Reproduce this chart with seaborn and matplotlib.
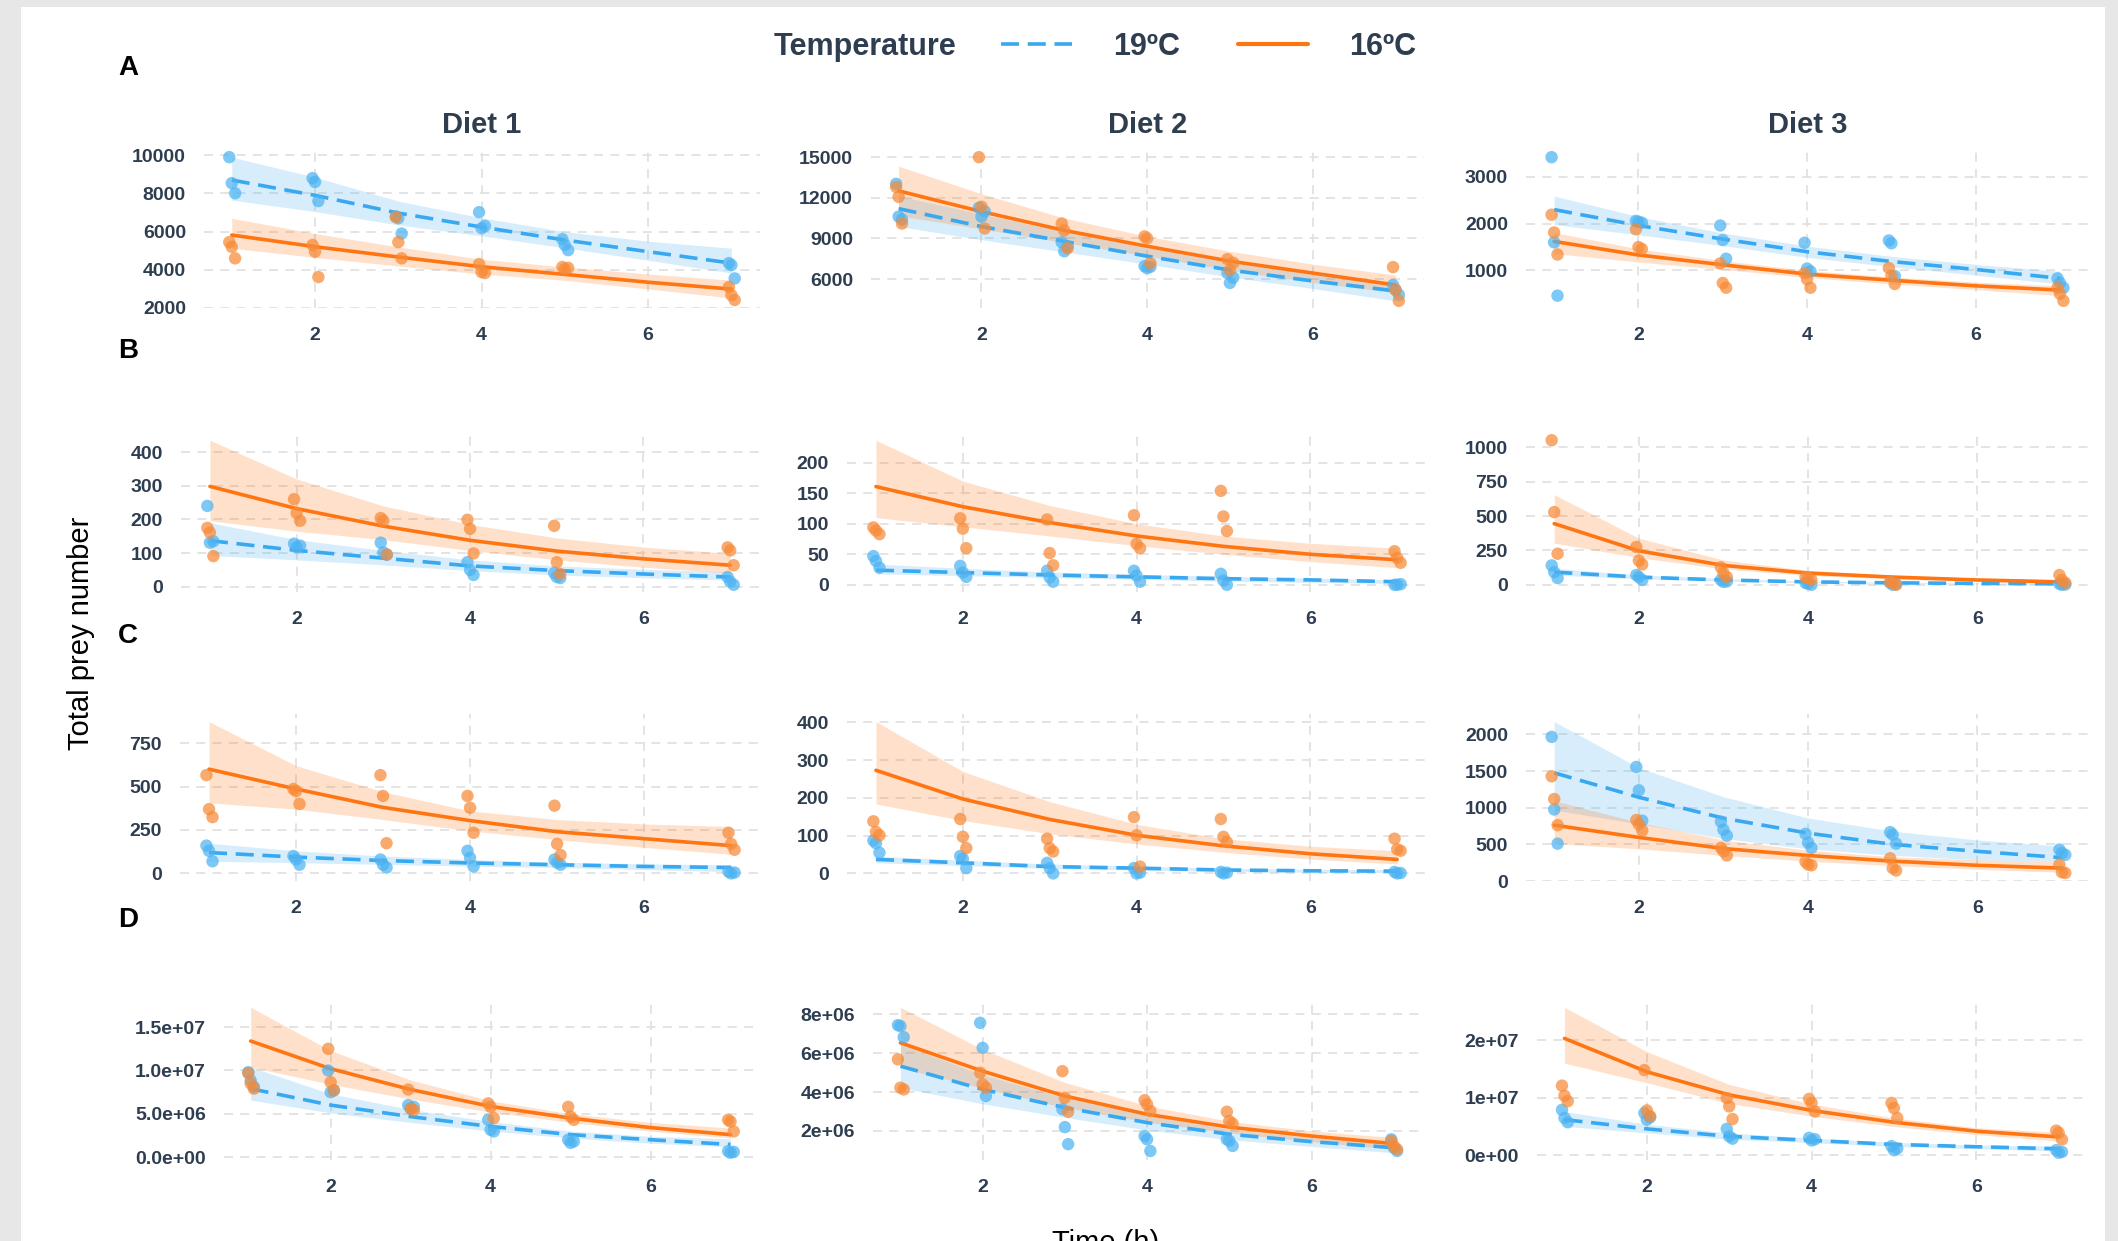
import numpy as np
import pandas as pd
import seaborn as sns
import matplotlib.pyplot as plt
from matplotlib.lines import Line2D
from matplotlib.patches import Rectangle

# sampling times of the replicates (3 per time point) and the small plotting jitter
times = [1, 1, 1, 2, 2, 2, 3, 3, 3, 4, 4, 4, 5, 5, 5, 7, 7, 7]
jitter = [-0.03, 0.0, 0.04] * 6
fit_times = [1, 2, 3, 4, 5, 6, 7]
temps = ['19ºC', '16ºC']
diets = ['Diet 1', 'Diet 2', 'Diet 3']
row_labels = ['A', 'B', 'C', 'D']
x_ticks = [2, 4, 6]

# ---- row A ----
A1_19 = [9900, 8540, 8010, 8800, 8600, 7600, 6800, 6700, 5900, 7020, 6180, 6300, 5600, 5300, 5030, 4350, 4250, 3550]
A1_16 = [5450, 5200, 4600, 5300, 4950, 3620, 6760, 5450, 4600, 4300, 3880, 3830, 4150, 4040, 4100, 3100, 2680, 2420]
A1_fit19 = [8700, 7900, 6970, 6240, 5560, 4950, 4350]
A1_lo19 = [7650, 7050, 6350, 5780, 5150, 4500, 3830]
A1_hi19 = [9900, 8850, 7600, 6720, 6000, 5500, 5130]
A1_fit16 = [5820, 5210, 4670, 4160, 3760, 3350, 2990]
A1_lo16 = [5130, 4650, 4200, 3780, 3450, 3000, 2520]
A1_hi16 = [6700, 5900, 5200, 4550, 4150, 3780, 3460]

A2_19 = [13030, 10610, 10400, 11270, 10610, 11000, 8710, 8050, 8400, 6950, 6800, 6900, 6440, 5710, 6100, 5560, 5200, 4830]
A2_16 = [12800, 12070, 10100, 15000, 11340, 9730, 10100, 9590, 8270, 9150, 9000, 7170, 7470, 6660, 7200, 6880, 5200, 4390]
A2_fit19 = [11200, 9880, 8780, 7690, 6660, 5860, 5120]
A2_lo19 = [9880, 8900, 8000, 7100, 6150, 5300, 4390]
A2_hi19 = [12150, 10800, 9500, 8300, 7200, 6400, 5560]
A2_fit16 = [12510, 10980, 9590, 8420, 7320, 6440, 5560]
A2_lo16 = [10680, 9700, 8700, 7700, 6650, 5750, 4980]
A2_hi16 = [14340, 12300, 10500, 9150, 8050, 7100, 6290]

A3_19 = [3420, 1600, 460, 2060, 2040, 2020, 1960, 1650, 1250, 1590, 1040, 980, 1640, 1580, 880, 830, 730, 630]
A3_16 = [2190, 1810, 1340, 1880, 1500, 1460, 1150, 730, 630, 940, 810, 630, 1050, 880, 710, 630, 500, 350]
A3_fit19 = [2300, 1960, 1670, 1400, 1190, 1020, 830]
A3_lo19 = [1980, 1760, 1530, 1280, 1080, 900, 710]
A3_hi19 = [2590, 2150, 1800, 1520, 1300, 1130, 980]
A3_fit16 = [1620, 1330, 1120, 920, 790, 670, 580]
A3_lo16 = [1360, 1180, 1020, 850, 710, 590, 460]
A3_hi16 = [1810, 1460, 1210, 1000, 860, 750, 670]

# ---- row B ----
B1_19 = [240, 131, 135, 128, 117, 122, 131, 102, 95, 73, 50, 35, 41, 29, 26, 29, 15, 6]
B1_16 = [175, 161, 91, 260, 219, 196, 204, 196, 96, 199, 172, 99, 181, 73, 38, 117, 108, 64]
B1_fit19 = [137, 108, 85, 62, 48, 38, 29]
B1_lo19 = [93, 80, 65, 48, 35, 27, 20]
B1_hi19 = [190, 140, 108, 80, 62, 52, 44]
B1_fit16 = [298, 232, 180, 138, 106, 83, 64]
B1_lo16 = [196, 165, 140, 108, 80, 58, 41]
B1_hi16 = [435, 320, 240, 185, 145, 118, 99]

B2_19 = [47, 39, 28, 31, 20, 13, 23, 12, 5, 23, 15, 5, 18, 7, 0, 0, 0, 1]
B2_16 = [94, 89, 83, 109, 92, 60, 107, 52, 32, 114, 67, 60, 154, 112, 88, 55, 44, 36]
B2_fit19 = [24, 20, 16, 13, 10, 8, 5]
B2_lo19 = [18, 15, 12, 9, 6, 4, 2]
B2_hi19 = [34, 27, 21, 17, 14, 11, 8]
B2_fit16 = [161, 128, 102, 80, 63, 50, 41]
B2_lo16 = [110, 95, 80, 64, 50, 38, 28]
B2_hi16 = [237, 170, 130, 100, 80, 68, 60]

B3_19 = [141, 92, 49, 71, 56, 35, 35, 21, 25, 14, 7, 0, 14, 0, 5, 7, 0, 2]
B3_16 = [1052, 529, 226, 275, 176, 148, 127, 85, 56, 56, 49, 35, 21, 14, 0, 71, 35, 14]
B3_fit19 = [92, 56, 35, 21, 14, 10, 7]
B3_lo19 = [71, 43, 27, 16, 10, 6, 3]
B3_hi19 = [120, 72, 45, 28, 19, 14, 11]
B3_fit16 = [445, 247, 141, 85, 56, 35, 21]
B3_lo16 = [303, 198, 115, 68, 42, 25, 7]
B3_hi16 = [656, 339, 180, 105, 68, 45, 35]

# ---- row C ----
C1_19 = [160, 130, 70, 100, 80, 50, 80, 50, 34, 130, 90, 40, 80, 62, 50, 10, 0, 5]
C1_16 = [566, 370, 324, 486, 474, 400, 566, 446, 174, 446, 378, 234, 390, 170, 106, 234, 170, 136]
C1_fit19 = [120, 94, 74, 60, 50, 40, 34]
C1_lo19 = [70, 62, 52, 42, 34, 22, 10]
C1_hi19 = [174, 130, 100, 80, 65, 55, 50]
C1_fit16 = [600, 486, 380, 304, 240, 200, 160]
C1_lo16 = [406, 370, 310, 245, 195, 150, 110]
C1_hi16 = [874, 620, 470, 360, 310, 285, 270]

C2_19 = [87, 80, 55, 46, 39, 14, 28, 14, 0, 14, 0, 2, 4, 0, 2, 4, 0, 1]
C2_16 = [138, 110, 101, 144, 97, 67, 92, 67, 58, 149, 101, 18, 144, 97, 83, 92, 64, 60]
C2_fit19 = [37, 28, 18, 14, 9, 7, 6]
C2_lo19 = [28, 21, 13, 9, 5, 3, 2]
C2_hi19 = [46, 35, 25, 19, 14, 11, 10]
C2_fit16 = [273, 197, 143, 101, 73, 52, 37]
C2_lo16 = [184, 140, 105, 78, 56, 38, 25]
C2_hi16 = [402, 270, 190, 130, 92, 72, 60]

C3_19 = [1967, 976, 510, 1557, 1238, 824, 810, 700, 619, 643, 524, 452, 667, 633, 510, 429, 381, 357]
C3_16 = [1429, 1119, 762, 833, 776, 690, 452, 405, 348, 262, 224, 214, 310, 176, 143, 224, 119, 110]
C3_fit19 = [1476, 1143, 857, 653, 500, 405, 319]
C3_lo19 = [967, 780, 580, 440, 350, 290, 262]
C3_hi19 = [2176, 1547, 1150, 860, 680, 560, 476]
C3_fit16 = [762, 595, 443, 348, 271, 214, 176]
C3_lo16 = [510, 440, 350, 270, 210, 160, 119]
C3_hi16 = [1095, 800, 560, 420, 330, 290, 262]

# ---- row D (millions) ----
D1_19 = [9.8, 8.85, 8.1, 10.0, 7.5, 7.7, 6.0, 5.6, 5.8, 4.3, 3.15, 2.96, 2.0, 1.64, 1.8, 0.68, 0.5, 0.6]
D1_16 = [9.7, 8.5, 7.9, 12.5, 8.65, 7.7, 7.8, 5.6, 5.4, 6.2, 5.8, 4.5, 5.8, 4.67, 4.3, 4.3, 4.1, 2.96]
D1_fit19 = [7.9, 6.0, 4.67, 3.53, 2.59, 2.0, 1.45]
D1_lo19 = [6.57, 5.1, 4.0, 3.0, 2.2, 1.6, 1.18]
D1_hi19 = [10.4, 7.3, 5.5, 4.1, 3.0, 2.4, 2.1]
D1_fit16 = [13.4, 10.2, 7.8, 5.85, 4.5, 3.4, 2.59]
D1_lo16 = [10.4, 8.4, 6.7, 5.2, 4.0, 3.0, 2.2]
D1_hi16 = [17.3, 12.3, 8.9, 6.5, 5.0, 4.0, 3.35]

D2_19 = [7.45, 7.4, 6.83, 7.57, 6.28, 3.8, 3.12, 2.2, 1.32, 1.74, 1.57, 0.97, 1.57, 1.49, 1.23, 1.57, 1.14, 0.97]
D2_16 = [5.69, 4.23, 4.14, 5.0, 4.4, 4.23, 5.08, 3.71, 2.99, 3.58, 3.37, 3.03, 2.99, 2.51, 2.38, 1.49, 1.23, 1.06]
D2_fit19 = [5.34, 4.14, 3.2, 2.43, 1.83, 1.45, 1.14]
D2_lo19 = [4.23, 3.4, 2.7, 2.05, 1.55, 1.2, 0.88]
D2_hi19 = [6.46, 4.9, 3.7, 2.8, 2.1, 1.65, 1.35]
D2_fit16 = [6.54, 5.08, 3.8, 2.86, 2.2, 1.74, 1.35]
D2_lo16 = [5.25, 4.2, 3.2, 2.45, 1.9, 1.45, 1.06]
D2_hi16 = [8.37, 6.2, 4.5, 3.3, 2.5, 2.0, 1.66]

D3_19 = [7.9, 6.5, 5.75, 7.35, 6.2, 6.6, 4.6, 3.3, 2.9, 3.05, 2.6, 2.8, 1.6, 0.9, 1.2, 0.9, 0.46, 0.6]
D3_16 = [12.1, 10.35, 9.4, 14.8, 7.8, 6.8, 9.95, 8.5, 6.3, 9.8, 9.1, 7.6, 9.1, 8.2, 6.5, 4.3, 3.9, 2.76]
D3_fit19 = [6.2, 4.6, 3.3, 2.6, 1.9, 1.5, 1.15]
D3_lo19 = [5.05, 3.9, 2.8, 2.2, 1.55, 1.15, 0.74]
D3_hi19 = [7.6, 5.4, 3.9, 3.0, 2.25, 1.8, 1.6]
D3_fit16 = [20.3, 14.5, 10.5, 7.8, 5.75, 4.2, 3.2]
D3_lo16 = [16.0, 12.6, 9.0, 6.8, 5.0, 3.6, 2.5]
D3_hi16 = [25.7, 18.0, 12.3, 8.9, 6.5, 4.8, 4.0]

# y ticks / labels per panel
yt_A = [[2000, 4000, 6000, 8000, 10000], [6000, 9000, 12000, 15000], [1000, 2000, 3000]]
yt_B = [[0, 100, 200, 300, 400], [0, 50, 100, 150, 200], [0, 250, 500, 750, 1000]]
yt_C = [[0, 250, 500, 750], [0, 100, 200, 300, 400], [0, 500, 1000, 1500, 2000]]
yt_D = [[0, 5e6, 1e7, 1.5e7], [2e6, 4e6, 6e6, 8e6], [0, 1e7, 2e7]]
yl_D = [['0.0e+00', '5.0e+06', '1.0e+07', '1.5e+07'],
        ['2e+06', '4e+06', '6e+06', '8e+06'],
        ['0e+00', '1e+07', '2e+07']]

# ---------------------------------------------------------------
sns.set_theme(style='white')
plt.rcParams['font.family'] = ['Liberation Sans', 'DejaVu Sans']

W, H = 2118, 1241
BLUE = '#38A8F0'
ORANGE = '#FF7512'
BLUE_PT = '#4DB3F2'
ORANGE_PT = '#F88A36'
TXT = '#2E3E50'
DASH = (5, 2.4)

fig = plt.figure(figsize=(W / 100, H / 100), dpi=100, facecolor='#e7e7e7')
fig.add_artist(Rectangle((21 / W, 0), (2105 - 21) / W, (H - 7) / H,
                         transform=fig.transFigure, facecolor='white',
                         edgecolor='none', zorder=-10))

# panel boxes in pixels (x0, x1, y0, y1), one row per figure part
boxes = [
    [(204, 760, 150, 308), (871, 1424, 150, 308), (1526, 2089, 150, 308)],
    [(181, 760, 433, 592), (847, 1427, 433, 592), (1526, 2091, 433, 592)],
    [(180, 761, 714, 881), (847, 1427, 714, 881), (1526, 2091, 714, 881)],
    [(224, 758, 1000, 1160), (873, 1422, 1000, 1160), (1537, 2087, 1000, 1160)],
]

panels = [
    [(A1_19, A1_16, A1_fit19, A1_lo19, A1_hi19, A1_fit16, A1_lo16, A1_hi16),
     (A2_19, A2_16, A2_fit19, A2_lo19, A2_hi19, A2_fit16, A2_lo16, A2_hi16),
     (A3_19, A3_16, A3_fit19, A3_lo19, A3_hi19, A3_fit16, A3_lo16, A3_hi16)],
    [(B1_19, B1_16, B1_fit19, B1_lo19, B1_hi19, B1_fit16, B1_lo16, B1_hi16),
     (B2_19, B2_16, B2_fit19, B2_lo19, B2_hi19, B2_fit16, B2_lo16, B2_hi16),
     (B3_19, B3_16, B3_fit19, B3_lo19, B3_hi19, B3_fit16, B3_lo16, B3_hi16)],
    [(C1_19, C1_16, C1_fit19, C1_lo19, C1_hi19, C1_fit16, C1_lo16, C1_hi16),
     (C2_19, C2_16, C2_fit19, C2_lo19, C2_hi19, C2_fit16, C2_lo16, C2_hi16),
     (C3_19, C3_16, C3_fit19, C3_lo19, C3_hi19, C3_fit16, C3_lo16, C3_hi16)],
    [(D1_19, D1_16, D1_fit19, D1_lo19, D1_hi19, D1_fit16, D1_lo16, D1_hi16),
     (D2_19, D2_16, D2_fit19, D2_lo19, D2_hi19, D2_fit16, D2_lo16, D2_hi16),
     (D3_19, D3_16, D3_fit19, D3_lo19, D3_hi19, D3_fit16, D3_lo16, D3_hi16)],
]
yticks = [yt_A, yt_B, yt_C, yt_D]
scales = [1, 1, 1, 1e6]

xs = np.array(times) + np.array(jitter)
xpad = 0.05 * (xs.max() - xs.min())

for r in range(4):
    for c in range(3):
        x0, x1, y0, y1 = boxes[r][c]
        ax = fig.add_axes([x0 / W, 1 - y1 / H, (x1 - x0) / W, (y1 - y0) / H])
        ax.set_facecolor('none')
        p19, p16, f19, lo19, hi19, f16, lo16, hi16 = [np.array(v) * scales[r] for v in panels[r][c]]

        pts = pd.DataFrame({'time': np.concatenate([xs, xs]),
                            'prey': np.concatenate([p19, p16]),
                            'temp': [temps[0]] * len(xs) + [temps[1]] * len(xs)})
        fits = pd.DataFrame({'time': fit_times * 2,
                             'prey': np.concatenate([f19, f16]),
                             'temp': [temps[0]] * 7 + [temps[1]] * 7})

        ax.fill_between(fit_times, lo19, hi19, color=BLUE, alpha=0.2, lw=0, zorder=1)
        ax.fill_between(fit_times, lo16, hi16, color=ORANGE, alpha=0.22, lw=0, zorder=1)
        sns.lineplot(data=fits, x='time', y='prey', hue='temp', style='temp',
                     palette={temps[0]: BLUE, temps[1]: ORANGE},
                     dashes={temps[0]: DASH, temps[1]: ''},
                     linewidth=2.6, legend=False, errorbar=None, ax=ax, zorder=2)
        sns.scatterplot(data=pts, x='time', y='prey', hue='temp',
                        palette={temps[0]: BLUE_PT, temps[1]: ORANGE_PT},
                        s=80, alpha=0.72, linewidth=0, legend=False, ax=ax, zorder=3)

        allv = np.concatenate([p19, p16, lo19, hi19, lo16, hi16])
        ypad = 0.05 * (allv.max() - allv.min())
        ax.set_ylim(allv.min() - ypad, allv.max() + ypad)
        ax.set_xlim(xs.min() - xpad, xs.max() + xpad)

        ax.set_xticks(x_ticks)
        ax.set_xticklabels([str(t) for t in x_ticks])
        ax.set_yticks(yticks[r][c])
        if r == 3:
            ax.set_yticklabels(yl_D[c])
        else:
            ax.set_yticklabels([str(int(v)) for v in yticks[r][c]])
        ax.set_xlabel('')
        ax.set_ylabel('')
        ax.tick_params(length=0, labelsize=14, labelcolor=TXT)
        ax.tick_params(axis='x', pad=14)
        ax.tick_params(axis='y', pad=13)
        for lab in ax.get_xticklabels() + ax.get_yticklabels():
            lab.set_fontweight('bold')
        ax.grid(True, color='#e2e2e2', linestyle=(0, (5, 4)), linewidth=1.3)
        ax.set_axisbelow(True)
        for s in ax.spines.values():
            s.set_visible(False)
        if r == 0:
            ax.set_title(diets[c], fontsize=21, fontweight='bold', color=TXT, pad=12)

# part labels
for lab, yc in zip(row_labels, [68, 351, 636, 920]):
    fig.text(118 / W, 1 - yc / H, lab, fontsize=20, fontweight='bold',
             color='black', ha='left', va='center')

fig.text(81 / W, 1 - 633 / H, 'Total prey number', rotation=90, fontsize=21,
         color='black', ha='center', va='center')
# the x title sits at the very bottom edge, partly cropped as in the source figure
fig.text(1106 / W, 1 - 1229 / H, 'Time (h)', fontsize=21, color='black',
         ha='center', va='top')

# legend
fig.text(774 / W, 1 - 47 / H, 'Temperature', fontsize=22, fontweight='bold',
         color=TXT, ha='left', va='center')
handles = [Line2D([], [], color=BLUE, lw=2.6, linestyle=(0, DASH)),
           Line2D([], [], color=ORANGE, lw=3)]
leg = fig.legend(handles, temps, loc='center', bbox_to_anchor=(1209 / W, 1 - 47 / H),
                 ncol=2, frameon=False, handlelength=2.3, handletextpad=1.35,
                 columnspacing=1.9, prop={'weight': 'bold', 'size': 22})
for t in leg.get_texts():
    t.set_color(TXT)

fig.savefig('out.png', dpi=100, facecolor=fig.get_facecolor())
